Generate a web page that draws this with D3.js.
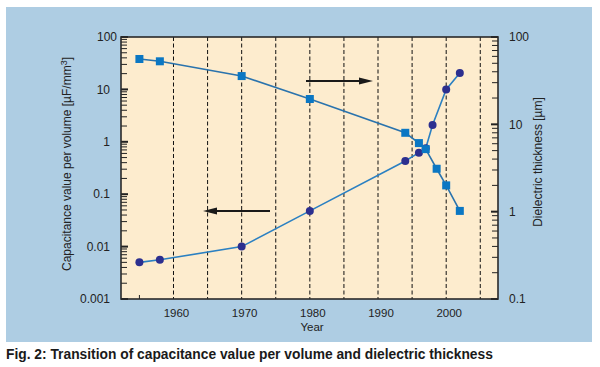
<!DOCTYPE html>
<html><head><meta charset="utf-8">
<script src="https://cdn.jsdelivr.net/npm/d3@7"></script>
<style>
body{margin:0;background:#fff;}
svg{display:block;font-family:"Liberation Sans",Arial,sans-serif;}
</style></head>
<body><svg id="c" width="600" height="367"></svg>
<script>
// ---- data ----
const capYears = [1955, 1958, 1970, 1980, 1994, 1996, 1997, 1998, 2000, 2002];
const capValues = [0.005, 0.0056, 0.01, 0.048, 0.43, 0.62, 0.75, 2.1, 10, 20.5];
const thkYears = [1955, 1958, 1970, 1980, 1994, 1996, 1997, 1998.6, 2000, 2002];
const thkValues = [56, 52.7, 35.7, 19.5, 8.0, 6.1, 5.2, 3.1, 2.0, 1.02];
const xTicks = [1960, 1970, 1980, 1990, 2000];
const gridYears = [1960, 1965, 1970, 1975, 1980, 1985, 1990, 1995, 2000, 2005];
const leftTicks = [100, 10, 1, 0.1, 0.01, 0.001];
const leftTickLabels = ["100", "10", "1", "0.1", "0.01", "0.001"];
const rightTicks = [100, 10, 1, 0.1];
const rightTickLabels = ["100", "10", "1", "0.1"];
const caption = "Fig. 2: Transition of capacitance value per volume and dielectric thickness";

const svg = d3.select("#c");
const L = 121, R = 498, T = 37, B = 299;
const x = d3.scaleLinear().domain([1952.3, 2007.6]).range([L, R]);
const yL = d3.scaleLog().domain([0.001, 100]).range([B, T]);
const yR = d3.scaleLog().domain([0.1, 100]).range([B, T]);

// panel
svg.append("rect").attr("x", 6).attr("y", 7).attr("width", 586).attr("height", 335).attr("fill", "#aecde3");
svg.append("rect").attr("x", L).attr("y", T).attr("width", R - L).attr("height", B - T).attr("fill", "#fdecce");

// grid
svg.append("g").selectAll("line").data(gridYears).join("line")
  .attr("x1", d => x(d)).attr("x2", d => x(d)).attr("y1", T).attr("y2", B)
  .attr("stroke", "#111").attr("stroke-width", 1).attr("stroke-dasharray", "4,2.5");

// minor ticks
function minors(dom) {
  const out = [];
  for (let e = Math.log10(dom[0]); e < Math.log10(dom[1]); e++) {
    for (let k = 2; k <= 9; k++) out.push(k * Math.pow(10, e));
  }
  return out;
}
const lMinor = minors([0.001, 100]);
const rMinor = minors([0.1, 100]);
svg.append("g").selectAll("line").data(lMinor).join("line")
  .attr("x1", L).attr("x2", L + 6).attr("y1", d => yL(d)).attr("y2", d => yL(d))
  .attr("stroke", "#222").attr("stroke-width", 1);
svg.append("g").selectAll("line").data(leftTicks).join("line")
  .attr("x1", L).attr("x2", L + 7).attr("y1", d => yL(d)).attr("y2", d => yL(d))
  .attr("stroke", "#222").attr("stroke-width", 2);
svg.append("g").selectAll("line").data(rMinor).join("line")
  .attr("x1", R - 6).attr("x2", R).attr("y1", d => yR(d)).attr("y2", d => yR(d))
  .attr("stroke", "#222").attr("stroke-width", 1);
svg.append("g").selectAll("line").data(rightTicks).join("line")
  .attr("x1", R - 7).attr("x2", R).attr("y1", d => yR(d)).attr("y2", d => yR(d))
  .attr("stroke", "#222").attr("stroke-width", 2);
// x tick at 1955
svg.append("line").attr("x1", x(1955)).attr("x2", x(1955)).attr("y1", B).attr("y2", B - 4)
  .attr("stroke", "#222").attr("stroke-width", 1);

// border
svg.append("rect").attr("x", L).attr("y", T).attr("width", R - L).attr("height", B - T)
  .attr("fill", "none").attr("stroke", "#2a2a2a").attr("stroke-width", 1.6);

// tick labels
svg.append("g").selectAll("text").data(leftTicks).join("text")
  .attr("x", (d, i) => i === 0 ? 117 : 110).attr("y", d => yL(d)).attr("dy", "0.35em")
  .attr("text-anchor", "end").attr("font-size", 12).attr("fill", "#222")
  .text((d, i) => leftTickLabels[i]);
svg.append("g").selectAll("text").data(rightTicks).join("text")
  .attr("x", 509).attr("y", d => yR(d)).attr("dy", "0.35em")
  .attr("text-anchor", "start").attr("font-size", 12).attr("fill", "#222")
  .text((d, i) => rightTickLabels[i]);
svg.append("g").selectAll("text").data(xTicks).join("text")
  .attr("x", d => x(d) + 3).attr("y", 317)
  .attr("text-anchor", "middle").attr("font-size", 11.5).attr("fill", "#222")
  .text(d => d);
svg.append("text").attr("x", 312).attr("y", 331).attr("text-anchor", "middle")
  .attr("font-size", 11.5).attr("fill", "#222").text("Year");

// axis titles
const lt = svg.append("text").attr("transform", "translate(71,164) rotate(-90)")
  .attr("text-anchor", "middle").attr("font-size", 12).attr("fill", "#222");
lt.append("tspan").text("Capacitance value per volume [\u00b5F/mm");
lt.append("tspan").attr("dy", -4).attr("font-size", 9).text("3");
lt.append("tspan").attr("dy", 4).text("]");
svg.append("text").attr("transform", "translate(542,162) rotate(-90)")
  .attr("text-anchor", "middle").attr("font-size", 12).attr("fill", "#222")
  .text("Dielectric thickness [\u00b5m]");

// arrows
function arrow(x1, x2, yv) {
  const dir = Math.sign(x2 - x1);
  svg.append("line").attr("x1", x1).attr("x2", x2 - dir * 10).attr("y1", yv).attr("y2", yv)
    .attr("stroke", "#1a1a1a").attr("stroke-width", 2.2);
  svg.append("path").attr("d", `M${x2},${yv} L${x2 - dir * 14},${yv - 3.5} L${x2 - dir * 14},${yv + 3.5} Z`)
    .attr("fill", "#1a1a1a");
}
arrow(306, 373, 81);
arrow(270, 203, 211);

// capacitance series
const capData = capYears.map((d, i) => [d, capValues[i]]);
svg.append("path").datum(capData)
  .attr("d", d3.line().x(d => x(d[0])).y(d => yL(d[1])))
  .attr("fill", "none").attr("stroke", "#2b80c2").attr("stroke-width", 1.6);
svg.append("g").selectAll("circle").data(capData).join("circle")
  .attr("cx", d => x(d[0])).attr("cy", d => yL(d[1])).attr("r", 4)
  .attr("fill", "#2c2f8f");

// thickness series
const thkData = thkYears.map((d, i) => [d, thkValues[i]]);
svg.append("path").datum(thkData)
  .attr("d", d3.line().x(d => x(d[0])).y(d => yR(d[1])))
  .attr("fill", "none").attr("stroke", "#2a73ad").attr("stroke-width", 1.6);
svg.append("g").selectAll("rect").data(thkData).join("rect")
  .attr("x", d => x(d[0]) - 4).attr("y", d => yR(d[1]) - 4).attr("width", 8).attr("height", 8)
  .attr("fill", "#0b77c3");

// caption
svg.append("text").attr("x", 6).attr("y", 359).attr("font-size", 13.8).attr("font-weight", "bold")
  .attr("fill", "#1a1a1a").text(caption);
</script></body></html>
